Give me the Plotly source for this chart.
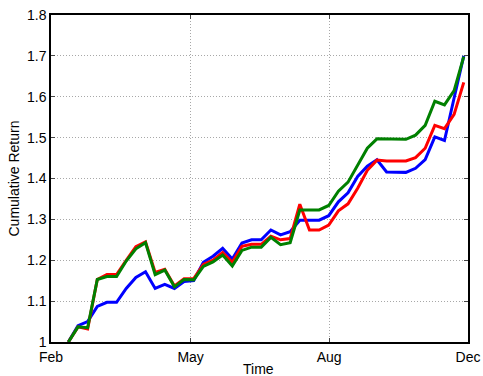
import plotly.graph_objects as go

# weekly observation index
idx = list(range(42))

red = [1.0, 1.037, 1.032, 1.153, 1.165, 1.165, 1.2, 1.233, 1.245, 1.17,
       1.178, 1.137, 1.155, 1.155, 1.19, 1.2, 1.219, 1.195, 1.234, 1.239,
       1.239, 1.259, 1.25, 1.253, 1.337, 1.274, 1.274, 1.286, 1.321, 1.338,
       1.376, 1.42, 1.445, 1.443, 1.443, 1.443, 1.451, 1.474, 1.53, 1.522,
       1.557, 1.635]
green = [1.0, 1.037, 1.035, 1.153, 1.16, 1.16, 1.198, 1.228, 1.243, 1.165,
         1.176, 1.135, 1.153, 1.152, 1.185, 1.196, 1.213, 1.186, 1.224, 1.232,
         1.232, 1.256, 1.238, 1.243, 1.323, 1.323, 1.323, 1.334, 1.369, 1.391,
         1.433, 1.474, 1.497, 1.497, 1.496, 1.496, 1.506, 1.53, 1.589, 1.58,
         1.615, 1.698]
blue = [1.0, 1.04, 1.05, 1.087, 1.097, 1.097, 1.131, 1.158, 1.172, 1.131,
        1.141, 1.131, 1.148, 1.15, 1.195, 1.21, 1.229, 1.203, 1.242, 1.25,
        1.25, 1.274, 1.262, 1.27, 1.298, 1.298, 1.298, 1.309, 1.343, 1.365,
        1.405, 1.43, 1.446, 1.416, 1.415, 1.415, 1.425, 1.446, 1.502, 1.493,
        1.597, 1.7]

x_tick_pos = [-1.8, 12.68, 27.04, 41.44]
x_tick_labels = ["Feb", "May", "Aug", "Dec"]
y_tick_vals = [1.0, 1.1, 1.2, 1.3, 1.4, 1.5, 1.6, 1.7, 1.8]
y_tick_labels = ["1", "1.1", "1.2", "1.3", "1.4", "1.5", "1.6", "1.7", "1.8"]

fig = go.Figure()
for name, vals, col in [("blue", blue, "#0000ff"), ("red", red, "#ff0000"), ("green", green, "#008000")]:
    fig.add_trace(go.Scatter(x=idx, y=vals, mode="lines", name=name,
                             line=dict(color=col, width=3), showlegend=False))

font = dict(family="Liberation Sans, Arial, sans-serif", size=14, color="black")
L, R, T, B = 51, 15, 15, 34
W, H = 483, 376
pw, ph = W - L - R, H - T - B

fig.update_layout(
    width=W, height=H,
    margin=dict(l=L, r=R, t=T, b=B, autoexpand=False),
    plot_bgcolor="white", paper_bgcolor="white",
    font=font,
    xaxis=dict(range=[x_tick_pos[0], x_tick_pos[-1]], tickvals=x_tick_pos, ticktext=x_tick_labels,
               showgrid=True, gridcolor="#a8a8a8", griddash="1px,2px", gridwidth=1,
               ticks="inside", ticklen=4, tickcolor="#444", mirror="ticks",
               showline=True, linecolor="black", linewidth=1.5, zeroline=False,
               automargin=False, ticklabelstandoff=1),
    yaxis=dict(range=[1.0, 1.8], tickvals=y_tick_vals, ticktext=y_tick_labels,
               showgrid=True, gridcolor="#a8a8a8", griddash="1px,2px", gridwidth=1,
               ticks="inside", ticklen=4, tickcolor="#444", mirror="ticks",
               showline=True, linecolor="black", linewidth=1.5, zeroline=False,
               automargin=False, ticklabelstandoff=0),
    annotations=[
        dict(text="Time", xref="paper", yref="paper", x=(258.8 - L) / pw, y=-(369 - T - ph) / ph,
             xanchor="center", yanchor="middle", showarrow=False, font=font),
        dict(text="Cumulative Return", xref="paper", yref="paper", x=-(L - 13.5) / pw, y=(H - B - 179) / ph,
             xanchor="center", yanchor="middle", textangle=-90, showarrow=False, font=font),
    ],
)
fig.write_html("out.html")
